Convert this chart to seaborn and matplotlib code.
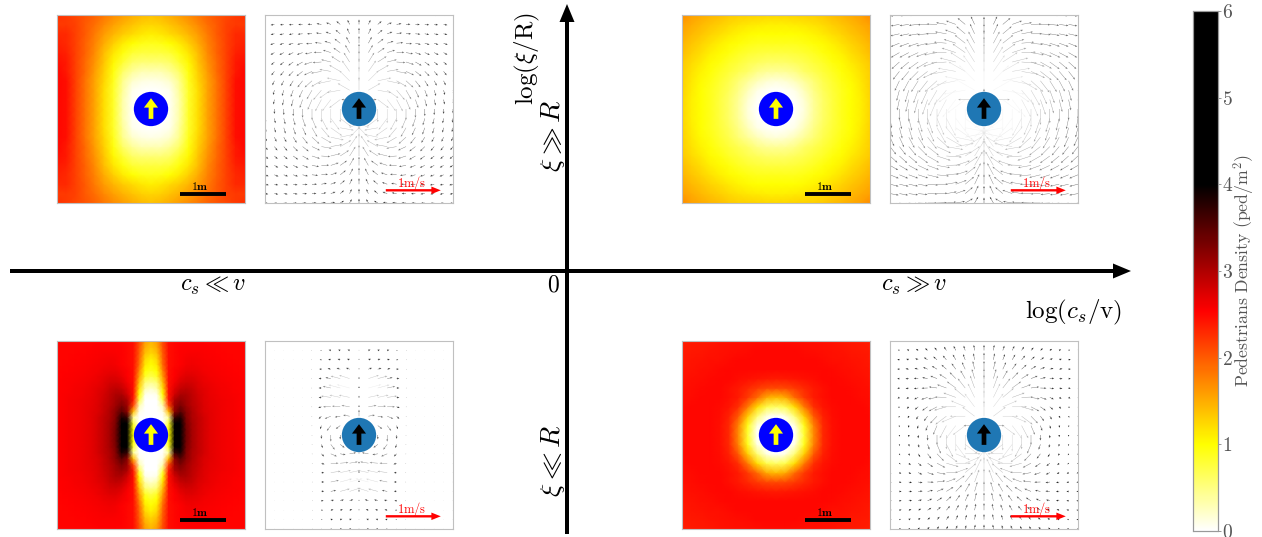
import numpy as np
import matplotlib
matplotlib.use('Agg')
from matplotlib import pyplot as plt
from matplotlib.colors import LinearSegmentedColormap
from matplotlib.patches import Circle
import seaborn as sns

# density, one quadrant only (rows y=0..2 m, cols x=0..2 m, the maps are symmetric)
density_tl = [
    [0, 0, .05, .35, .85, 1.2, 1.55, 1.85, 2.15, 2.45, 2.5],
    [0, 0, .05, .35, .85, 1.2, 1.55, 1.85, 2.15, 2.45, 2.5],
    [0, .02, .08, .4, .85, 1.2, 1.55, 1.85, 2.15, 2.45, 2.5],
    [.1, .12, .2, .45, .9, 1.25, 1.55, 1.85, 2.15, 2.45, 2.5],
    [.3, .3, .4, .6, .95, 1.3, 1.6, 1.9, 2.15, 2.4, 2.5],
    [.55, .55, .6, .8, 1.05, 1.35, 1.65, 1.9, 2.15, 2.4, 2.45],
    [.75, .75, .8, .95, 1.15, 1.4, 1.7, 1.95, 2.15, 2.35, 2.4],
    [.9, .92, 1.0, 1.12, 1.3, 1.5, 1.75, 1.95, 2.15, 2.3, 2.35],
    [1.1, 1.14, 1.22, 1.32, 1.45, 1.6, 1.8, 2.0, 2.15, 2.3, 2.3],
    [1.25, 1.28, 1.36, 1.46, 1.58, 1.72, 1.88, 2.0, 2.15, 2.2, 2.2],
    [1.38, 1.42, 1.5, 1.6, 1.7, 1.82, 1.95, 2.05, 2.12, 2.2, 2.25],
]
density_tr = [
    [0, 0, 0, .15, .4, .6, .75, .9, 1.0, 1.1, 1.25],
    [0, 0, .03, .18, .42, .6, .75, .9, 1.0, 1.1, 1.25],
    [0, .03, .1, .27, .48, .65, .78, .9, 1.0, 1.12, 1.27],
    [.15, .18, .27, .4, .55, .7, .82, .93, 1.03, 1.14, 1.28],
    [.4, .42, .48, .6, .68, .78, .87, .98, 1.07, 1.18, 1.3],
    [.6, .6, .65, .7, .78, .85, .95, 1.03, 1.13, 1.22, 1.33],
    [.75, .75, .78, .82, .87, .95, 1.02, 1.1, 1.2, 1.3, 1.4],
    [.9, .9, .9, .93, .98, 1.03, 1.1, 1.18, 1.27, 1.35, 1.45],
    [1.0, 1.0, 1.0, 1.03, 1.07, 1.13, 1.2, 1.27, 1.35, 1.42, 1.52],
    [1.1, 1.1, 1.12, 1.14, 1.18, 1.22, 1.3, 1.35, 1.42, 1.5, 1.58],
    [1.25, 1.25, 1.27, 1.28, 1.3, 1.33, 1.4, 1.45, 1.52, 1.58, 1.7],
]
density_br = [
    [0, 0, 0, .8, 1.7, 2.3, 2.45, 2.5, 2.5, 2.5, 2.5],
    [0, 0, .1, .9, 1.75, 2.3, 2.45, 2.5, 2.5, 2.5, 2.5],
    [0, .1, .55, 1.3, 2.0, 2.35, 2.47, 2.5, 2.5, 2.5, 2.5],
    [.6, .7, 1.2, 1.8, 2.25, 2.42, 2.48, 2.5, 2.5, 2.5, 2.48],
    [1.4, 1.5, 1.9, 2.2, 2.38, 2.46, 2.5, 2.5, 2.5, 2.48, 2.47],
    [2.1, 2.12, 2.2, 2.3, 2.4, 2.46, 2.5, 2.5, 2.49, 2.47, 2.45],
    [2.38, 2.4, 2.42, 2.44, 2.47, 2.5, 2.5, 2.49, 2.47, 2.45, 2.43],
    [2.5, 2.5, 2.5, 2.5, 2.5, 2.5, 2.49, 2.47, 2.45, 2.43, 2.42],
    [2.5, 2.5, 2.5, 2.5, 2.5, 2.48, 2.46, 2.45, 2.43, 2.42, 2.4],
    [2.5, 2.5, 2.5, 2.48, 2.47, 2.46, 2.44, 2.43, 2.41, 2.4, 2.38],
    [2.48, 2.48, 2.47, 2.46, 2.45, 2.44, 2.43, 2.41, 2.4, 2.38, 2.36],
]
# this one has sharper features so it gets a finer grid (step 0.125 m)
density_bl = [
    [0, 0, 0, 1.0, 4.5, 4.1, 3.35, 3.05, 2.9, 2.8, 2.7, 2.65, 2.62, 2.6, 2.58, 2.56, 2.55],
    [0, 0, 0, 1.0, 4.5, 4.1, 3.35, 3.05, 2.9, 2.8, 2.7, 2.65, 2.62, 2.6, 2.58, 2.56, 2.55],
    [0, 0, 0, .8, 4.2, 4.05, 3.3, 3.05, 2.9, 2.8, 2.7, 2.65, 2.62, 2.6, 2.58, 2.56, 2.55],
    [0, 0, 0, .4, 3.7, 3.85, 3.25, 3.0, 2.9, 2.8, 2.7, 2.65, 2.62, 2.6, 2.58, 2.56, 2.55],
    [0, 0, .1, 1.4, 3.2, 3.5, 3.2, 3.0, 2.85, 2.75, 2.7, 2.65, 2.62, 2.6, 2.58, 2.56, 2.55],
    [0, 0, .3, 2.1, 3.1, 3.3, 3.1, 2.95, 2.85, 2.75, 2.68, 2.65, 2.62, 2.6, 2.58, 2.56, 2.55],
    [0, 0, .7, 2.4, 3.0, 3.15, 3.05, 2.92, 2.82, 2.72, 2.68, 2.64, 2.62, 2.6, 2.58, 2.56, 2.55],
    [.05, .1, 1.0, 2.45, 2.8, 3.0, 3.0, 2.9, 2.8, 2.72, 2.66, 2.63, 2.6, 2.58, 2.57, 2.56, 2.55],
    [.2, .35, 1.2, 2.45, 2.7, 2.85, 2.9, 2.85, 2.75, 2.7, 2.65, 2.62, 2.6, 2.58, 2.56, 2.55, 2.55],
    [.45, .55, 1.4, 2.45, 2.6, 2.75, 2.8, 2.78, 2.72, 2.66, 2.63, 2.6, 2.58, 2.57, 2.56, 2.55, 2.54],
    [.7, .85, 1.6, 2.45, 2.55, 2.65, 2.72, 2.72, 2.68, 2.64, 2.6, 2.58, 2.57, 2.56, 2.55, 2.54, 2.54],
    [.9, 1.0, 1.75, 2.45, 2.55, 2.6, 2.65, 2.66, 2.64, 2.6, 2.58, 2.57, 2.56, 2.55, 2.54, 2.54, 2.53],
    [1.0, 1.15, 1.9, 2.45, 2.5, 2.55, 2.6, 2.62, 2.6, 2.58, 2.57, 2.56, 2.55, 2.54, 2.54, 2.53, 2.53],
    [1.1, 1.25, 1.95, 2.45, 2.5, 2.55, 2.58, 2.6, 2.58, 2.57, 2.56, 2.55, 2.54, 2.54, 2.53, 2.53, 2.52],
    [1.25, 1.4, 2.0, 2.45, 2.5, 2.55, 2.56, 2.57, 2.57, 2.56, 2.55, 2.54, 2.54, 2.53, 2.53, 2.52, 2.52],
    [1.35, 1.5, 2.05, 2.45, 2.5, 2.54, 2.55, 2.55, 2.55, 2.55, 2.54, 2.54, 2.53, 2.53, 2.52, 2.52, 2.52],
    [1.45, 1.6, 2.1, 2.45, 2.5, 2.53, 2.54, 2.54, 2.54, 2.54, 2.53, 2.53, 2.53, 2.52, 2.52, 2.52, 2.52],
]

# arrow direction in degrees clockwise from "up", same quadrant layout
angle_arcs = [
    [0, 180, 180, 180, 180, 180, 180, 180, 180, 180, 180],
    [0, 90, 127, 143, 152, 157, 161, 164, 166, 168, 170],
    [0, 60, 100, 125, 140, 150, 155, 160, 163, 165, 165],
    [0, 45, 78, 102, 120, 132, 142, 148, 152, 155, 155],
    [0, 35, 60, 80, 100, 115, 128, 135, 140, 142, 142],
    [0, 32, 57, 76, 94, 108, 120, 126, 130, 132, 132],
    [0, 30, 55, 72, 88, 100, 110, 115, 118, 120, 120],
    [0, 28, 52, 72, 85, 96, 104, 108, 110, 112, 112],
    [0, 25, 50, 70, 80, 90, 95, 100, 102, 103, 104],
    [0, 25, 50, 70, 80, 88, 92, 96, 98, 100, 100],
    [0, 30, 60, 80, 84, 88, 90, 92, 95, 97, 98],
]
angle_fan = [
    [0, 180, 180, 180, 180, 180, 180, 180, 180, 180, 180],
    [0, 90, 127, 143, 152, 157, 161, 164, 166, 167, 169],
    [0, 53, 90, 113, 127, 136, 143, 148, 152, 155, 157],
    [0, 37, 67, 90, 106, 118, 125, 130, 135, 138, 140],
    [0, 26, 50, 70, 88, 100, 108, 115, 120, 122, 125],
    [0, 20, 38, 54, 70, 82, 92, 100, 105, 108, 110],
    [0, 16, 30, 44, 58, 68, 78, 86, 92, 96, 100],
    [0, 13, 25, 36, 48, 58, 66, 74, 80, 85, 90],
    [0, 11, 21, 30, 40, 49, 57, 64, 70, 75, 80],
    [0, 9, 18, 26, 34, 42, 50, 56, 62, 67, 72],
    [0, 8, 15, 23, 30, 37, 44, 50, 55, 60, 65],
]
angle_jet = [
    [0, 180, 180, 180, 180, 180, 180, 180, 180, 180, 180],
    [0, 90, 127, 143, 160, 165, 165, 165, 165, 165, 165],
    [0, 80, 100, 113, 135, 140, 140, 140, 140, 140, 140],
    [0, 80, 85, 90, 110, 120, 120, 120, 120, 120, 120],
    [0, 78, 78, 82, 95, 100, 100, 100, 100, 100, 100],
    [0, 75, 75, 78, 90, 95, 95, 95, 95, 95, 95],
    [0, 72, 75, 78, 85, 90, 90, 90, 90, 90, 90],
    [0, 70, 72, 75, 85, 90, 90, 90, 90, 90, 90],
    [0, 70, 72, 75, 85, 90, 90, 90, 90, 90, 90],
    [0, 70, 72, 75, 85, 90, 90, 90, 90, 90, 90],
    [0, 70, 72, 75, 85, 90, 90, 90, 90, 90, 90],
]

# arrow speed in m/s
speed_tl = [
    [0, .1, .24, .26, .24, .2, .16, .13, .11, .09, .08],
    [.1, .15, .25, .26, .24, .2, .16, .13, .11, .09, .08],
    [.24, .25, .25, .25, .23, .19, .15, .13, .11, .09, .08],
    [.26, .26, .25, .24, .21, .18, .15, .12, .1, .09, .08],
    [.24, .24, .23, .21, .19, .16, .14, .12, .1, .09, .08],
    [.2, .2, .19, .18, .16, .15, .13, .11, .09, .08, .08],
    [.16, .16, .15, .15, .14, .13, .11, .1, .09, .08, .07],
    [.13, .13, .13, .12, .12, .11, .1, .09, .08, .08, .07],
    [.11, .11, .11, .1, .1, .09, .09, .08, .08, .07, .07],
    [.09, .09, .09, .09, .09, .08, .08, .08, .07, .07, .06],
    [.08, .08, .08, .08, .08, .08, .07, .07, .07, .06, .06],
]
speed_tr = [
    [0, .2, .4, .4, .36, .33, .29, .26, .23, .2, .18],
    [.2, .3, .4, .4, .36, .33, .29, .26, .23, .2, .18],
    [.4, .4, .4, .38, .35, .32, .28, .25, .23, .2, .18],
    [.4, .4, .38, .36, .33, .3, .27, .24, .22, .2, .18],
    [.36, .36, .35, .33, .31, .28, .26, .23, .21, .19, .18],
    [.33, .33, .32, .3, .28, .26, .24, .22, .2, .19, .18],
    [.29, .29, .28, .27, .26, .24, .22, .21, .19, .18, .17],
    [.24, .24, .24, .23, .23, .22, .21, .19, .18, .17, .17],
    [.18, .2, .21, .21, .21, .2, .19, .18, .17, .17, .16],
    [.14, .16, .18, .19, .19, .19, .18, .17, .17, .16, .16],
    [.1, .13, .16, .17, .18, .18, .17, .17, .16, .16, .15],
]
speed_bl = [
    [0, .05, .08, .12, .07, .01, .005, .005, .005, .005, .005],
    [.05, .08, .1, .12, .07, .01, .005, .005, .005, .005, .005],
    [.12, .12, .1, .12, .07, .01, .005, .005, .005, .005, .005],
    [.03, .15, .15, .14, .06, .01, .005, .005, .005, .005, .005],
    [.03, .2, .2, .18, .05, .01, .005, .005, .005, .005, .005],
    [.03, .24, .22, .15, .05, .01, .005, .005, .005, .005, .005],
    [.03, .2, .18, .1, .05, .01, .005, .005, .005, .005, .005],
    [.02, .07, .07, .06, .04, .01, .005, .005, .005, .005, .005],
    [.02, .05, .05, .05, .03, .01, .005, .005, .005, .005, .005],
    [.01, .04, .04, .04, .02, .01, .005, .005, .005, .005, .005],
    [.01, .03, .03, .02, .01, .01, .005, .005, .005, .005, .005],
]
speed_br = [
    [0, .1, .28, .3, .26, .18, .1, .06, .04, .03, .02],
    [.1, .2, .28, .3, .26, .18, .1, .06, .04, .03, .02],
    [.28, .28, .28, .28, .25, .18, .11, .07, .04, .03, .02],
    [.3, .3, .28, .27, .23, .17, .12, .08, .05, .03, .02],
    [.28, .28, .26, .24, .21, .16, .12, .08, .05, .04, .03],
    [.24, .24, .22, .2, .18, .15, .11, .08, .06, .04, .03],
    [.18, .18, .17, .16, .15, .13, .1, .08, .06, .04, .03],
    [.15, .15, .14, .13, .12, .11, .09, .07, .06, .04, .03],
    [.13, .12, .11, .11, .1, .09, .08, .06, .05, .04, .03],
    [.1, .1, .09, .09, .08, .07, .06, .05, .04, .03, .03],
    [.08, .08, .07, .07, .06, .06, .05, .04, .03, .03, .02],
]

cbar_ticks = [0, 1, 2, 3, 4, 5, 6]

W, H = 1262, 537
sns.set_theme(style='white')
plt.rcParams['mathtext.fontset'] = 'cm'
plt.rcParams['font.family'] = ['cmr10', 'DejaVu Sans']
plt.rcParams['axes.formatter.use_mathtext'] = True

# white -> yellow -> red -> black at 4, black up to 6
ped_cmap = LinearSegmentedColormap.from_list(
    'ped', [(0, 'white'), (1.0 / 6, 'yellow'), (2.54 / 6, 'red'), (4.0 / 6, 'black'), (1, 'black')], N=512)


def unfold(quadrant):
    q = np.array(quadrant, dtype=float)
    both = np.vstack([q[:0:-1], q])
    return np.hstack([both[:, :0:-1], both])


def px_axes(x0, y0, x1, y1):
    return fig.add_axes([x0 / W, 1 - y1 / H, (x1 - x0) / W, (y1 - y0) / H])


def overlay(x0, y0, disc_color, arrow_color):
    ov = px_axes(x0, y0, x0 + 188, y0 + 188)
    ov.patch.set_alpha(0)
    ov.set_xlim(-2, 2)
    ov.set_ylim(-2, 2)
    ov.set_xticks([])
    ov.set_yticks([])
    for s in ov.spines.values():
        s.set_visible(True)
        s.set_linewidth(0.8)
        s.set_color('#c0c0c0')
    ov.add_patch(Circle((0, 0), 0.365, color=disc_color, lw=0, zorder=5))
    ov.arrow(0, -0.21, 0, 0.44, width=0.1, head_width=0.3, head_length=0.2, length_includes_head=True,
             color=arrow_color, lw=0, zorder=6)
    return ov


def density_panel(x0, y0, quadrant, **kw):
    grid = unfold(quadrant)
    ax = px_axes(x0, y0, x0 + 188, y0 + 188)
    sns.heatmap(grid, ax=ax, cmap=ped_cmap, vmin=0, vmax=6, xticklabels=False, yticklabels=False,
                shading='gouraud', **kw)
    ax.set_xlim(0, grid.shape[1] - 1)
    ax.set_ylim(0, grid.shape[0] - 1)
    ov = overlay(x0, y0, '#0000ff', '#ffff00')
    ov.plot([0.61, 1.6], [-1.8, -1.8], color='#000000', lw=2.8, solid_capstyle='butt', zorder=6)
    ov.text(1.05, -1.63, r'$\mathbf{1m}$', ha='center', va='center', fontsize=8.5, color='#000000', zorder=6)


def quiver_panel(x0, y0, speed, angle, pale_at):
    ov = overlay(x0, y0, '#1f77b4', '#000000')
    s = unfold(speed)
    a = np.deg2rad(unfold(angle))
    ticks = np.linspace(-2, 2, s.shape[0])
    X, Y = np.meshgrid(ticks, ticks)
    u = s * np.sin(a) * np.sign(X) * np.sign(Y)
    v = s * np.cos(a)
    # the long arrows look washed out in the original, short ones stay dark
    ov.quiver(X, Y, u, v, s, cmap='gray', clim=(0, pale_at), angles='xy', scale_units='xy', scale=0.855, width=0.0022,
              headwidth=4.5, headlength=5.5, headaxislength=5, minlength=0.6, zorder=2)
    ov.arrow(0.57, -1.73, 1.17, 0, width=0.05, head_width=0.16, head_length=0.2, length_includes_head=True,
             color='red', lw=0, zorder=6)
    ov.text(1.13, -1.58, r'$\mathrm{1m/s}$', ha='center', va='center', fontsize=9, color='red', zorder=6)


fig = plt.figure(figsize=(W / 100, H / 100), dpi=100)

# big schematic axes, in pixel coordinates of the figure
bg = fig.add_axes([0, 0, 1, 1])
bg.set_xlim(0, W)
bg.set_ylim(H, 0)
bg.axis('off')
bg.arrow(10, 271, 1103, 0, width=4, head_width=15, head_length=18, length_includes_head=False, color='#000000', lw=0)
bg.arrow(567, 534, 0, -512, width=4, head_width=15, head_length=18, length_includes_head=False, color='#000000', lw=0)
bg.text(213, 286, r'$c_s \ll v$', fontsize=17.5, ha='center', va='center', color='#000000')
bg.text(914, 286, r'$c_s \gg v$', fontsize=17.5, ha='center', va='center', color='#000000')
bg.text(553, 285, r'$0$', fontsize=17, ha='center', va='center', color='#000000')
bg.text(1074, 312, r'$\mathrm{log}(c_s/\mathrm{v})$', fontsize=18, ha='center', va='center', color='#000000')
bg.text(527, 59, r'$\mathrm{log}(\xi/\mathrm{R})$', fontsize=18, ha='center', va='center', rotation=90, color='#000000')
bg.text(553, 136, r'$\xi \gg R$', fontsize=20, ha='center', va='center', rotation=90, color='#000000')
bg.text(553, 461, r'$\xi \ll R$', fontsize=20, ha='center', va='center', rotation=90, color='#000000')

# the colorbar comes from the first heatmap
cax = px_axes(1193, 11, 1218, 531)
density_panel(57, 15, density_tl, cbar=True, cbar_ax=cax, cbar_kws={'ticks': cbar_ticks})
cax.tick_params(axis='y', which='both', right=True, length=2, width=0.6, color='#888888', labelsize=14,
                labelcolor='#555555', pad=1)
cax.set_yticklabels([r'$%d$' % t for t in cbar_ticks])
cax.set_ylabel(r'$\mathrm{Pedestrians\ Density\ (ped/m^2)}$', fontsize=12.8, color='#555555')
cax.yaxis.set_label_coords(1.55, 0.5)
for s in cax.spines.values():
    s.set_visible(True)
    s.set_linewidth(0.8)
    s.set_color('#999999')

density_panel(682, 15, density_tr, cbar=False)
density_panel(57, 341, density_bl, cbar=False)
density_panel(682, 341, density_br, cbar=False)

quiver_panel(265, 15, speed_tl, angle_arcs, 0.33)
quiver_panel(890, 15, speed_tr, angle_arcs, 0.42)
quiver_panel(265, 341, speed_bl, angle_jet, 0.26)
quiver_panel(890, 341, speed_br, angle_fan, 0.36)

fig.savefig('out.png', dpi=100)
